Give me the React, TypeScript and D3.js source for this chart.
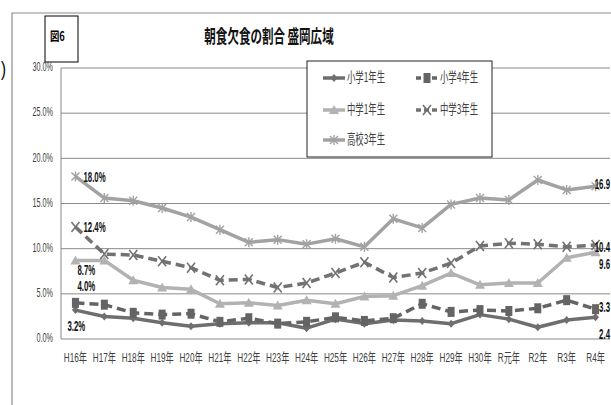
import React from "react";
import * as d3 from "d3";

// Survey years (Heisei 16 … Reiwa 4)
const categories = [
  "H16年", "H17年", "H18年", "H19年", "H20年", "H21年", "H22年", "H23年", "H24年", "H25年",
  "H26年", "H27年", "H28年", "H29年", "H30年", "R元年", "R2年", "R3年", "R4年",
];

// Breakfast-skipping rate (%) per grade
const elementary1 = [3.2, 2.5, 2.3, 1.8, 1.4, 1.7, 1.8, 1.8, 1.2, 2.2, 1.7, 2.1, 2.0, 1.7, 2.7, 2.2, 1.3, 2.1, 2.4];
const elementary4 = [4.0, 3.8, 2.9, 2.7, 2.8, 1.9, 2.3, 1.7, 1.9, 2.4, 2.0, 2.3, 3.9, 3.0, 3.2, 3.1, 3.4, 4.3, 3.3];
const juniorHigh1 = [8.7, 8.7, 6.5, 5.7, 5.5, 3.9, 4.0, 3.7, 4.3, 3.9, 4.7, 4.8, 5.9, 7.3, 6.0, 6.2, 6.2, 9.0, 9.6];
const juniorHigh3 = [12.4, 9.4, 9.3, 8.6, 7.9, 6.5, 6.6, 5.7, 6.2, 7.3, 8.5, 6.8, 7.3, 8.4, 10.3, 10.6, 10.5, 10.2, 10.4];
const highSchool3 = [18.0, 15.6, 15.3, 14.5, 13.5, 12.1, 10.7, 11.0, 10.5, 11.1, 10.2, 13.3, 12.3, 14.9, 15.6, 15.4, 17.6, 16.5, 16.9];

const seriesNames = ["小学1年生", "小学4年生", "中学1年生", "中学3年生", "高校3年生"];
const yTicks = [0, 5, 10, 15, 20, 25, 30];

type Marker = "diamond" | "square" | "triangle" | "x" | "star";

const series = [
  { name: seriesNames[0], values: elementary1, color: "#6e6e6e", dashed: false, marker: "diamond" as Marker },
  { name: seriesNames[1], values: elementary4, color: "#646464", dashed: true, marker: "square" as Marker },
  { name: seriesNames[2], values: juniorHigh1, color: "#b2b2b2", dashed: false, marker: "triangle" as Marker },
  { name: seriesNames[3], values: juniorHigh3, color: "#727272", dashed: true, marker: "x" as Marker },
  { name: seriesNames[4], values: highSchool3, color: "#a2a2a2", dashed: false, marker: "star" as Marker },
];

// Value labels: [series index, point index, dx, dy, anchor]
const valueLabels: [number, number, number, number, "start" | "end"][] = [
  [4, 0, 8, 2, "start"],
  [3, 0, 8, 1, "start"],
  [2, 0, 2, 11, "start"],
  [1, 0, 2, -16, "start"],
  [0, 0, -8, 17, "start"],
  [4, 18, 15, -1, "end"],
  [3, 18, 15, 3, "end"],
  [2, 18, 15, 13, "end"],
  [1, 18, 15, -1, "end"],
  [0, 18, 15, 18, "end"],
];

const SANS = "'Liberation Sans', Arial, 'Noto Sans CJK JP', sans-serif";
const CJK = "'Noto Sans CJK JP', sans-serif";

// Horizontally condensed text, drawn around its anchor point
function CText({
  x, y, sx, size, anchor = "start", weight = "normal", family = SANS, fill = "#404040", children,
}: {
  x: number; y: number; sx: number; size: number; anchor?: string; weight?: string; family?: string; fill?: string;
  children: React.ReactNode;
}) {
  return (
    <g transform={`translate(${x},${y}) scale(${sx},1)`}>
      <text x={0} y={0} textAnchor={anchor} dominantBaseline="middle" fontSize={size} fontWeight={weight} fontFamily={family} fill={fill}>
        {children}
      </text>
    </g>
  );
}

function MarkerShape({ kind, x, y, color }: { kind: Marker; x: number; y: number; color: string }) {
  switch (kind) {
    case "diamond":
      return <path d={`M${x},${y - 4}L${x + 3.5},${y}L${x},${y + 4}L${x - 3.5},${y}Z`} fill={color} />;
    case "square":
      return <rect x={x - 3.5} y={y - 5} width={7} height={10} fill={color} />;
    case "triangle":
      return <path d={`M${x},${y - 5}L${x + 5},${y + 4}L${x - 5},${y + 4}Z`} fill={color} />;
    case "x":
      return (
        <path d={`M${x - 4},${y - 5}L${x + 4},${y + 5}M${x + 4},${y - 5}L${x - 4},${y + 5}`} stroke={color} strokeWidth={1.6} fill="none" />
      );
    case "star":
      return (
        <path
          d={`M${x - 4},${y - 4}L${x + 4},${y + 4}M${x + 4},${y - 4}L${x - 4},${y + 4}M${x},${y - 5}L${x},${y + 5}`}
          stroke={color}
          strokeWidth={1.4}
          fill="none"
        />
      );
  }
}

export default function App() {
  const width = 611;
  const height = 405;
  const plot = { left: 61, right: 610, top: 68, bottom: 339 };

  const x = d3.scaleBand<string>().domain(categories).range([plot.left, plot.right]).padding(0);
  const cx = (c: string) => (x(c) ?? 0) + x.bandwidth() / 2;
  const y = d3.scaleLinear().domain([0, 30]).range([plot.bottom, plot.top]);
  const pct = d3.format(".1f");

  const line = d3
    .line<number>()
    .x((_, i) => cx(categories[i]))
    .y((v) => y(v));

  const legendItems = [
    { s: series[0], lx: 323, ly: 78 },
    { s: series[1], lx: 416, ly: 78 },
    { s: series[2], lx: 323, ly: 110 },
    { s: series[3], lx: 416, ly: 110 },
    { s: series[4], lx: 323, ly: 140 },
  ];

  return (
    <div style={{ position: "absolute", left: 0, top: 0, width, height, overflow: "hidden", background: "#fff" }}>
      <svg width={width} height={height} style={{ display: "block" }}>
        <rect width={width} height={height} fill="#fff" />
        <CText x={1} y={71} sx={0.75} size={20} fill="#000">)</CText>

        {/* chart frame */}
        <path d={`M12,${height}V13H${width}`} fill="none" stroke="#8c8c8c" strokeWidth={1.2} />

        {/* figure number box */}
        <rect x={45} y={16} width={33} height={46} fill="#fff" stroke="#000" strokeWidth={1} />
        <CText x={50} y={38} sx={0.75} size={12.5} weight="bold" family={CJK} fill="#000">図6</CText>

        {/* title */}
        <CText x={269} y={38} sx={0.64} size={18} anchor="middle" weight="bold" family={CJK} fill="#111">
          朝食欠食の割合 盛岡広域
        </CText>

        {/* gridlines and y labels */}
        {yTicks.map((t) => (
          <g key={t}>
            <line x1={plot.left} x2={plot.right} y1={y(t)} y2={y(t)} stroke="#8a8a8a" strokeWidth={1} />
            <CText x={53} y={y(t)} sx={0.58} size={12.5} anchor="end">
              {pct(t)}%
            </CText>
          </g>
        ))}
        <line x1={plot.left} x2={plot.left} y1={plot.top} y2={plot.bottom} stroke="#8a8a8a" strokeWidth={1} />

        {/* x labels */}
        {categories.map((c) => (
          <CText key={c} x={cx(c)} y={359} sx={0.63} size={13} anchor="middle">
            {c}
          </CText>
        ))}

        {/* series lines */}
        {series.map((s) => (
          <path
            key={s.name}
            d={line(s.values) ?? ""}
            fill="none"
            stroke={s.color}
            strokeWidth={3.5}
            strokeDasharray={s.dashed ? "9 5" : undefined}
            strokeLinejoin="round"
          />
        ))}
        {series.map((s) => (
          <g key={s.name + "-m"}>
            {s.values.map((v, i) => (
              <MarkerShape key={i} kind={s.marker} x={cx(categories[i])} y={y(v)} color={s.color} />
            ))}
          </g>
        ))}

        {/* value labels (the last year's labels sit at the right edge, without the unit) */}
        {valueLabels.map(([si, pi, dx, dy, anchor]) => {
          const v = series[si].values[pi];
          const px = anchor === "end" ? Math.min(cx(categories[pi]) + dx, width - 1) : cx(categories[pi]) + dx;
          return (
            <CText key={`${si}-${pi}`} x={px} y={y(v) + dy} sx={0.56} size={14} weight="bold" anchor={anchor} fill="#111">
              {anchor === "end" ? pct(v) : `${pct(v)}%`}
            </CText>
          );
        })}

        {/* legend */}
        <rect x={307} y={61} width={185} height={96} fill="#fff" stroke="#222" strokeWidth={1} />
        {legendItems.map(({ s, lx, ly }) => (
          <g key={s.name + "-leg"}>
            <line
              x1={lx}
              x2={lx + 22}
              y1={ly}
              y2={ly}
              stroke={s.color}
              strokeWidth={3.5}
              strokeDasharray={s.dashed ? "5 3" : undefined}
            />
            <MarkerShape kind={s.marker} x={lx + 11} y={ly} color={s.color} />
            <CText x={lx + 24} y={ly} sx={0.62} size={13.5} family={CJK}>
              {s.name}
            </CText>
          </g>
        ))}
      </svg>
    </div>
  );
}
